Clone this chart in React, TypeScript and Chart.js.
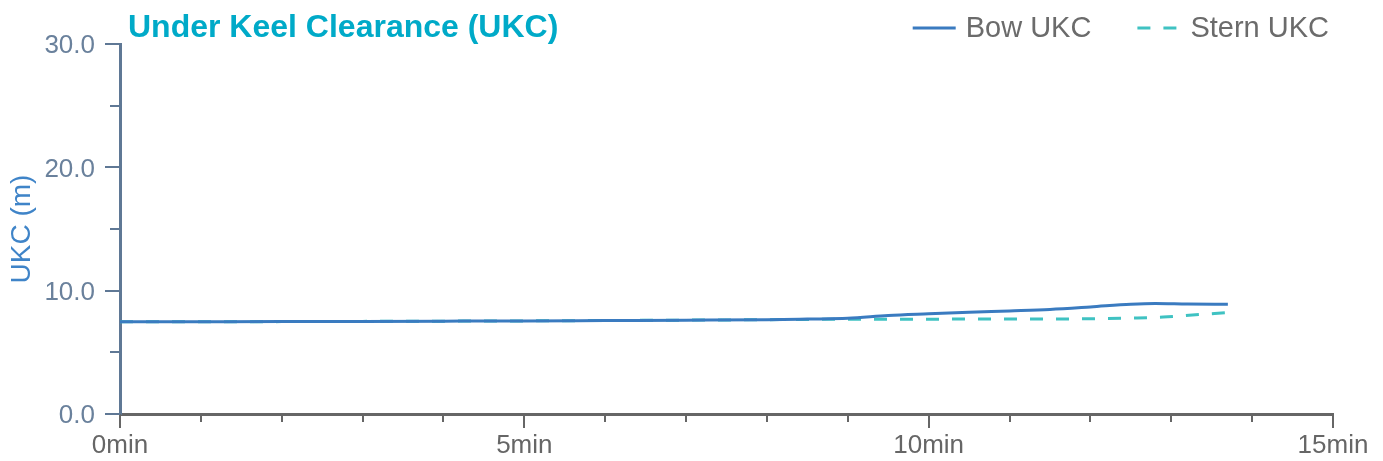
import React, { useEffect, useRef } from 'react';
import { Chart, registerables } from 'chart.js';

Chart.register(...registerables);

// ---- data ----
const chartTitle = 'Under Keel Clearance (UKC)';
const yAxisTitle = 'UKC (m)';
const seriesNames = ['Bow UKC', 'Stern UKC'];

const bowMinutes = [0, 1, 2, 3, 4, 5, 6, 7, 8, 8.5, 9, 9.5, 10, 10.5, 11, 11.5, 12, 12.5, 12.8, 13.2, 13.7];
const bowUkc = [7.47, 7.48, 7.49, 7.51, 7.53, 7.55, 7.58, 7.61, 7.65, 7.7, 7.76, 7.98, 8.12, 8.25, 8.36, 8.48, 8.68, 8.9, 8.96, 8.92, 8.9];

const sternMinutes = [0, 1, 2, 3, 4, 5, 6, 7, 8, 8.5, 9, 10, 11, 12, 12.5, 12.9, 13.3, 13.7];
const sternUkc = [7.47, 7.48, 7.49, 7.51, 7.53, 7.55, 7.58, 7.61, 7.65, 7.67, 7.68, 7.69, 7.7, 7.72, 7.78, 7.86, 8.05, 8.22];

const xMin = 0;
const xMax = 15;
const yMin = 0;
const yMax = 30;

const FONT = '"Liberation Sans", Arial, Helvetica, sans-serif';
const BOW_COLOR = '#3a7bc0';
const STERN_COLOR = '#3fc2c2';

const decorPlugin = {
  id: 'decor',
  afterDraw(chart: any) {
    const { ctx, chartArea, scales } = chart;
    const xs = scales.x;
    const ys = scales.y;
    ctx.save();
    // x ticks
    ctx.strokeStyle = '#666666';
    ctx.lineWidth = 2;
    for (let m = xMin; m <= xMax; m += 1) {
      const px = Math.round(xs.getPixelForValue(m));
      const len = m % 5 === 0 ? 14 : 8;
      ctx.beginPath();
      ctx.moveTo(px, chartArea.bottom);
      ctx.lineTo(px, chartArea.bottom + len);
      ctx.stroke();
    }
    // y ticks
    ctx.strokeStyle = '#5f7895';
    for (let v = yMin; v <= yMax; v += 5) {
      const py = Math.round(ys.getPixelForValue(v));
      const len = v % 10 === 0 ? 15 : 10;
      ctx.beginPath();
      ctx.moveTo(chartArea.left, py);
      ctx.lineTo(chartArea.left - len, py);
      ctx.stroke();
    }
    // title
    ctx.fillStyle = '#00aac8';
    ctx.font = `bold 32px ${FONT}`;
    ctx.textBaseline = 'middle';
    ctx.textAlign = 'left';
    ctx.fillText(chartTitle, chartArea.left + 8, 28);

    // legend
    ctx.font = `29px ${FONT}`;
    const items = [
      { label: seriesNames[0], color: BOW_COLOR, dash: [] as number[] },
      { label: seriesNames[1], color: STERN_COLOR, dash: [13, 13] },
    ];
    const boxW = 43;
    const gapText = 10;
    const gapItems = 46;
    const widths = items.map((it) => boxW + gapText + ctx.measureText(it.label).width);
    const total = widths.reduce((a, b) => a + b, 0) + gapItems * (items.length - 1);
    let x = chart.width - 54 - total;
    const y = 29;
    items.forEach((it, i) => {
      ctx.strokeStyle = it.color;
      ctx.lineWidth = 3;
      ctx.setLineDash(it.dash);
      ctx.beginPath();
      ctx.moveTo(x, y - 1);
      ctx.lineTo(x + boxW, y - 1);
      ctx.stroke();
      ctx.setLineDash([]);
      ctx.fillStyle = '#6b6b6b';
      ctx.fillText(it.label, x + boxW + gapText, y);
      x += widths[i] + gapItems;
    });
    ctx.restore();
  },
};

export default function App() {
  const canvasRef = useRef<HTMLCanvasElement | null>(null);

  useEffect(() => {
    document.body.style.margin = '0';
    const canvas = canvasRef.current;
    if (!canvas) return;
    const chart = new Chart(canvas, {
      type: 'line',
      data: {
        datasets: [
          {
            label: seriesNames[0],
            data: bowMinutes.map((m, i) => ({ x: m, y: bowUkc[i] })),
            borderColor: BOW_COLOR,
            backgroundColor: BOW_COLOR,
            borderWidth: 3,
            pointRadius: 0,
            cubicInterpolationMode: 'monotone',
            fill: false,
          },
          {
            label: seriesNames[1],
            data: sternMinutes.map((m, i) => ({ x: m, y: sternUkc[i] })),
            borderColor: STERN_COLOR,
            backgroundColor: STERN_COLOR,
            borderWidth: 3,
            borderDash: [13, 13],
            pointRadius: 0,
            cubicInterpolationMode: 'monotone',
            fill: false,
          },
        ],
      },
      options: {
        animation: false,
        responsive: false,
        devicePixelRatio: 1,
        layout: { padding: { top: 44, right: 50, left: 0, bottom: 0 } },
        plugins: {
          legend: { display: false },
          title: { display: false },
          tooltip: { enabled: false },
        },
        scales: {
          x: {
            type: 'linear',
            min: xMin,
            max: xMax,
            ticks: {
              stepSize: 1,
              autoSkip: false,
              maxRotation: 0,
              padding: 2,
              color: '#666666',
              font: { family: FONT, size: 26 },
              callback: (v: any) => (Number(v) % 5 === 0 ? `${v}min` : ''),
            },
            grid: {
              drawOnChartArea: false,
              tickLength: 14,
              tickColor: 'rgba(0,0,0,0)',
            },
            border: { color: '#666666', width: 3 },
            afterFit: (s: any) => {
              s.height = 47;
            },
          },
          y: {
            min: yMin,
            max: yMax,
            ticks: {
              stepSize: 5,
              autoSkip: false,
              padding: 10,
              labelOffset: 2,
              color: '#6a819c',
              font: { family: FONT, size: 26 },
              callback: (v: any) => (Number(v) % 10 === 0 ? Number(v).toFixed(1) : ''),
            },
            grid: {
              drawOnChartArea: false,
              tickLength: 15,
              tickColor: 'rgba(0,0,0,0)',
            },
            border: { color: '#5f7895', width: 3 },
            title: {
              display: true,
              text: yAxisTitle,
              color: '#3f84c8',
              font: { family: FONT, size: 28 },
              padding: { top: 5, bottom: 0 },
            },
            afterFit: (s: any) => {
              s.width = 120;
            },
          },
        },
      },
      plugins: [decorPlugin],
    });
    return () => chart.destroy();
  }, []);

  return (
    <div style={{ width: 1383, height: 461 }}>
      <canvas ref={canvasRef} width={1383} height={461} style={{ display: 'block' }} />
    </div>
  );
}
